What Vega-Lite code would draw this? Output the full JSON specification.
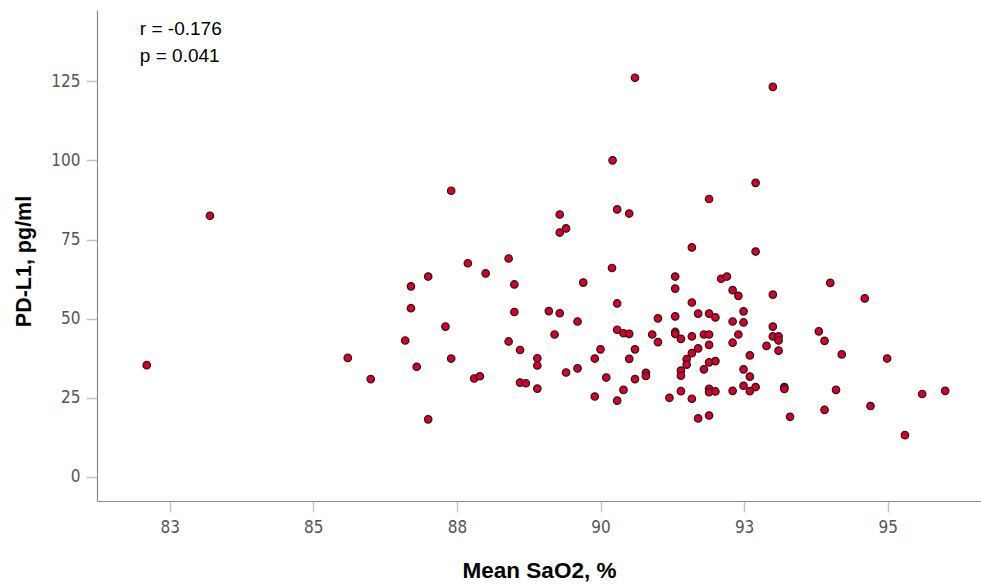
{
  "$schema": "https://vega.github.io/schema/vega-lite/v6.json",
  "width": 884,
  "height": 491,
  "autosize": {"type": "none"},
  "padding": {"left": 97, "top": 10, "right": 0, "bottom": 84},
  "background": "white",
  "config": {
    "view": {"stroke": null},
    "axis": {"grid": false}
  },
  "datasets": {
    "points": [
      {"sao2": 82.10, "pdl1": 35.3}, {"sao2": 83.20, "pdl1": 82.5}, {"sao2": 85.60, "pdl1": 37.6},
      {"sao2": 86.00, "pdl1": 30.9}, {"sao2": 86.60, "pdl1": 43.1}, {"sao2": 86.70, "pdl1": 53.3},
      {"sao2": 86.70, "pdl1": 60.2}, {"sao2": 86.80, "pdl1": 34.8}, {"sao2": 87.00, "pdl1": 63.3},
      {"sao2": 87.00, "pdl1": 18.2}, {"sao2": 87.30, "pdl1": 47.5}, {"sao2": 87.40, "pdl1": 90.4},
      {"sao2": 87.40, "pdl1": 37.4}, {"sao2": 87.69, "pdl1": 67.5}, {"sao2": 87.80, "pdl1": 31.1},
      {"sao2": 87.90, "pdl1": 31.8}, {"sao2": 88.00, "pdl1": 64.3}, {"sao2": 88.40, "pdl1": 69.0},
      {"sao2": 88.50, "pdl1": 60.8}, {"sao2": 88.50, "pdl1": 52.1}, {"sao2": 88.40, "pdl1": 42.8},
      {"sao2": 88.60, "pdl1": 40.1}, {"sao2": 88.60, "pdl1": 29.8}, {"sao2": 88.70, "pdl1": 29.6},
      {"sao2": 88.90, "pdl1": 37.5}, {"sao2": 88.90, "pdl1": 35.2}, {"sao2": 88.90, "pdl1": 27.9},
      {"sao2": 89.10, "pdl1": 52.4}, {"sao2": 89.20, "pdl1": 45.0}, {"sao2": 89.29, "pdl1": 82.9},
      {"sao2": 89.29, "pdl1": 77.2}, {"sao2": 89.40, "pdl1": 78.5}, {"sao2": 89.29, "pdl1": 51.7},
      {"sao2": 89.40, "pdl1": 33.0}, {"sao2": 89.60, "pdl1": 49.1}, {"sao2": 89.60, "pdl1": 34.3},
      {"sao2": 89.70, "pdl1": 61.4}, {"sao2": 89.90, "pdl1": 37.4}, {"sao2": 89.90, "pdl1": 25.4},
      {"sao2": 90.00, "pdl1": 40.3}, {"sao2": 90.10, "pdl1": 31.4}, {"sao2": 90.20, "pdl1": 66.0},
      {"sao2": 90.29, "pdl1": 84.5}, {"sao2": 90.29, "pdl1": 54.8}, {"sao2": 90.29, "pdl1": 46.5},
      {"sao2": 90.29, "pdl1": 24.1}, {"sao2": 90.40, "pdl1": 45.4}, {"sao2": 90.40, "pdl1": 27.5},
      {"sao2": 90.50, "pdl1": 83.2}, {"sao2": 90.50, "pdl1": 45.2}, {"sao2": 90.50, "pdl1": 37.3},
      {"sao2": 90.60, "pdl1": 40.3}, {"sao2": 90.60, "pdl1": 30.9}, {"sao2": 90.79, "pdl1": 32.9},
      {"sao2": 90.79, "pdl1": 31.9}, {"sao2": 90.90, "pdl1": 45.0}, {"sao2": 91.00, "pdl1": 50.1},
      {"sao2": 91.00, "pdl1": 42.6}, {"sao2": 91.20, "pdl1": 25.0}, {"sao2": 91.30, "pdl1": 63.3},
      {"sao2": 91.30, "pdl1": 59.5}, {"sao2": 91.30, "pdl1": 50.7}, {"sao2": 91.30, "pdl1": 45.8},
      {"sao2": 91.30, "pdl1": 45.2}, {"sao2": 91.40, "pdl1": 43.6}, {"sao2": 91.40, "pdl1": 33.6},
      {"sao2": 91.40, "pdl1": 32.0}, {"sao2": 91.40, "pdl1": 27.1}, {"sao2": 91.50, "pdl1": 37.2},
      {"sao2": 91.50, "pdl1": 35.5}, {"sao2": 91.59, "pdl1": 72.5}, {"sao2": 91.59, "pdl1": 55.1},
      {"sao2": 91.59, "pdl1": 44.4}, {"sao2": 91.59, "pdl1": 39.1}, {"sao2": 91.59, "pdl1": 24.7},
      {"sao2": 91.70, "pdl1": 51.6}, {"sao2": 91.70, "pdl1": 40.6}, {"sao2": 91.70, "pdl1": 18.5},
      {"sao2": 91.80, "pdl1": 45.0}, {"sao2": 91.80, "pdl1": 34.0}, {"sao2": 91.89, "pdl1": 87.8},
      {"sao2": 91.89, "pdl1": 51.6}, {"sao2": 91.89, "pdl1": 45.0}, {"sao2": 91.89, "pdl1": 41.7},
      {"sao2": 91.89, "pdl1": 36.2}, {"sao2": 91.89, "pdl1": 27.8}, {"sao2": 91.89, "pdl1": 26.8},
      {"sao2": 91.89, "pdl1": 19.4}, {"sao2": 92.00, "pdl1": 50.4}, {"sao2": 92.00, "pdl1": 36.6},
      {"sao2": 92.00, "pdl1": 27.0}, {"sao2": 92.10, "pdl1": 62.6}, {"sao2": 92.20, "pdl1": 63.3},
      {"sao2": 92.30, "pdl1": 59.0}, {"sao2": 92.30, "pdl1": 49.1}, {"sao2": 92.30, "pdl1": 42.4},
      {"sao2": 92.30, "pdl1": 27.2}, {"sao2": 92.40, "pdl1": 57.2}, {"sao2": 92.40, "pdl1": 45.0},
      {"sao2": 92.49, "pdl1": 52.3}, {"sao2": 92.49, "pdl1": 48.8}, {"sao2": 92.49, "pdl1": 34.0},
      {"sao2": 92.49, "pdl1": 28.8}, {"sao2": 92.60, "pdl1": 38.4}, {"sao2": 92.60, "pdl1": 31.7},
      {"sao2": 92.60, "pdl1": 27.1}, {"sao2": 92.70, "pdl1": 92.9}, {"sao2": 92.70, "pdl1": 71.2},
      {"sao2": 92.70, "pdl1": 28.4}, {"sao2": 92.89, "pdl1": 41.4}, {"sao2": 93.00, "pdl1": 57.6},
      {"sao2": 93.00, "pdl1": 47.5}, {"sao2": 93.00, "pdl1": 44.4}, {"sao2": 93.10, "pdl1": 44.4},
      {"sao2": 93.10, "pdl1": 43.1}, {"sao2": 93.10, "pdl1": 39.9}, {"sao2": 93.20, "pdl1": 28.4},
      {"sao2": 93.20, "pdl1": 27.8}, {"sao2": 93.30, "pdl1": 19.0}, {"sao2": 93.80, "pdl1": 46.0},
      {"sao2": 93.90, "pdl1": 43.0}, {"sao2": 93.90, "pdl1": 21.2}, {"sao2": 94.00, "pdl1": 61.3},
      {"sao2": 94.10, "pdl1": 27.5}, {"sao2": 94.20, "pdl1": 38.7}, {"sao2": 94.60, "pdl1": 56.4},
      {"sao2": 94.70, "pdl1": 22.4}, {"sao2": 94.99, "pdl1": 37.4}, {"sao2": 95.60, "pdl1": 26.2},
      {"sao2": 96.00, "pdl1": 27.2}, {"sao2": 95.30, "pdl1": 13.2}, {"sao2": 90.21, "pdl1": 100.0},
      {"sao2": 90.60, "pdl1": 126.1}, {"sao2": 93.00, "pdl1": 123.2}
    ],
    "notes": [
      {"sao2": 81.98, "pdl1": 139.6, "label": "r = -0.176"},
      {"sao2": 81.98, "pdl1": 131.0, "label": "p = 0.041"}
    ]
  },
  "layer": [
    {
      "data": {"name": "points"},
      "mark": {"type": "point", "shape": "circle", "filled": true, "fill": "#D2002A", "stroke": "#2a1515", "strokeWidth": 1.2, "opacity": 1, "size": 56},
      "encoding": {
        "x": {
          "field": "sao2", "type": "quantitative",
          "scale": {"domain": [81.234, 96.624], "nice": false, "zero": false},
          "axis": {
            "title": "Mean SaO2, %",
            "values": [82.5, 85, 87.5, 90, 92.5, 95],
            "format": ".0f",
            "domainColor": "#8a8a8a", "domainWidth": 1.2,
            "tickColor": "#c4c4c4", "tickWidth": 1.5, "tickSize": 11,
            "labelFont": "Liberation Sans Narrow, DejaVu Sans Condensed, sans-serif",
            "labelFontSize": 17, "labelColor": "#555555", "labelPadding": 7,
            "titleFont": "Liberation Sans, Arial, sans-serif", "titleFontSize": 22.5, "titleFontWeight": "bold", "titleColor": "#000000",
            "titleBaseline": "alphabetic", "titleY": 76
          }
        },
        "y": {
          "field": "pdl1", "type": "quantitative",
          "scale": {"domain": [-7.6, 147.5], "nice": false, "zero": false},
          "axis": {
            "title": "PD-L1, pg/ml",
            "values": [0, 25, 50, 75, 100, 125],
            "domainColor": "#8a8a8a", "domainWidth": 1.2,
            "tickColor": "#c4c4c4", "tickWidth": 1.5, "tickSize": 11,
            "labelFont": "Liberation Sans Narrow, DejaVu Sans Condensed, sans-serif",
            "labelFontSize": 17, "labelColor": "#555555", "labelPadding": 6,
            "titleFont": "Liberation Sans, Arial, sans-serif", "titleFontSize": 21.5, "titleFontWeight": "bold", "titleColor": "#000000",
            "titleBaseline": "alphabetic", "titleX": -67, "titleY": 251, "titleAngle": -90, "titleAlign": "center"
          }
        }
      }
    },
    {
      "data": {"name": "notes"},
      "mark": {"type": "text", "align": "left", "baseline": "alphabetic", "font": "Liberation Sans, Arial, sans-serif", "fontSize": 19, "color": "#000000"},
      "encoding": {
        "x": {"field": "sao2", "type": "quantitative"},
        "y": {"field": "pdl1", "type": "quantitative"},
        "text": {"field": "label"}
      }
    }
  ]
}
